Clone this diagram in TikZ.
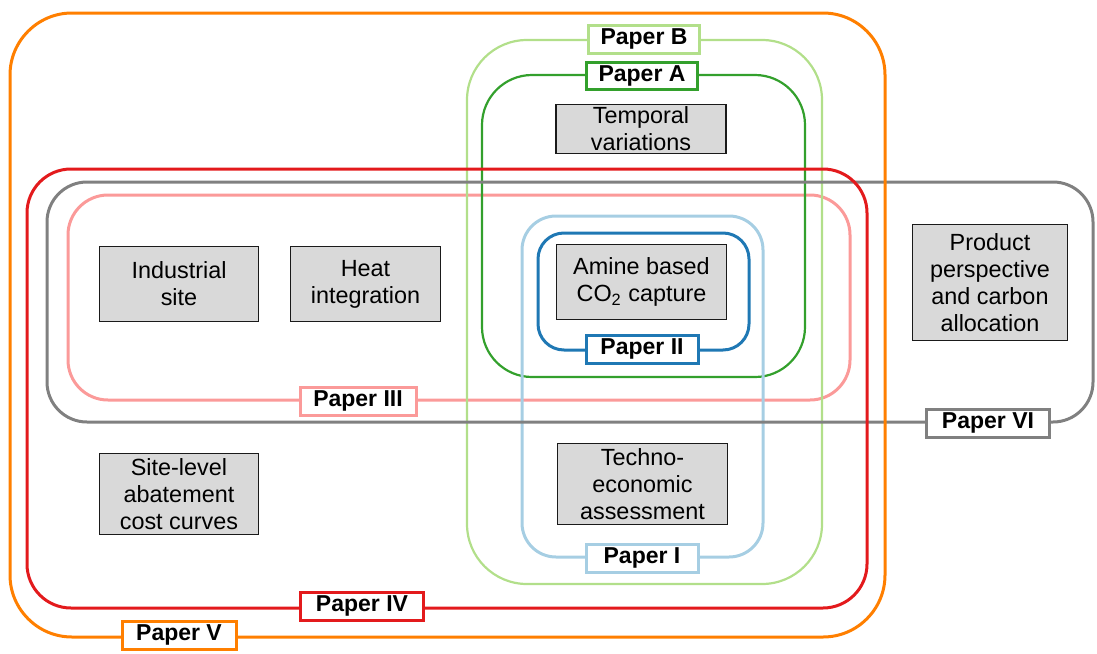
\documentclass[tikz,border=0pt]{standalone}
\usepackage{fontspec}
\setmainfont{Liberation Sans}
\definecolor{cOrange}{HTML}{FF7F00}
\definecolor{cRed}{HTML}{E31A1C}
\definecolor{cGray}{HTML}{808080}
\definecolor{cPink}{HTML}{FB9A99}
\definecolor{cLGreen}{HTML}{B2DF8A}
\definecolor{cGreen}{HTML}{33A02C}
\definecolor{cLBlue}{HTML}{A6CEE3}
\definecolor{cBlue}{HTML}{1F78B4}
\definecolor{boxfill}{HTML}{D9D9D9}
\definecolor{boxline}{HTML}{1A1A1A}
\begin{document}
\begin{tikzpicture}[x=0.5pt,y=-0.5pt,
  frame/.style={line width=1.5pt},
  thinframe/.style={line width=1.1pt},
  topic/.style={draw=boxline, fill=boxfill, line width=0.9pt, inner sep=0pt,
    align=center, font=\fontsize{11.7}{13.5}\selectfont},
  paper/.style={fill=white, line width=1.5pt, inner sep=0pt,
    minimum height=14pt, font=\fontsize{11.5}{13}\selectfont\bfseries}]
\useasboundingbox (0,0) rectangle (1097,653);
% frames
\draw[frame, cPink, rounded corners=20pt] (68,195) rectangle (850,400);
\draw[thinframe, cLGreen, rounded corners=30pt] (467,40) rectangle (822,584);
\draw[thinframe, cGreen, rounded corners=25pt] (482,75) rectangle (805,377);
\draw[frame, cLBlue, rounded corners=17pt] (522,216) rectangle (763,557);
\draw[frame, cGray, rounded corners=20pt] (47,182) rectangle (1093,422);
\draw[frame, cRed, rounded corners=22pt] (27,169) rectangle (867,608);
\draw[frame, cOrange, rounded corners=31pt] (10,13) rectangle (885,637);
\draw[frame, cBlue, rounded corners=13pt] (538,233) rectangle (749,350);
% labels
\node[paper, draw=cLGreen, minimum width=55.5pt] (pB) at (644,39) {Paper B};
\node[paper, draw=cGreen, minimum width=55.5pt, minimum height=13.5pt] (pA) at (642,76) {Paper A};
\node[paper, draw=cBlue, minimum width=56pt] (pII) at (642,349) {Paper II};
\node[paper, draw=cLBlue, minimum width=56pt] (pI) at (642,558) {Paper I};
\node[paper, draw=cPink, minimum width=58pt] (pIII) at (358,401) {Paper III};
\node[paper, draw=cRed, minimum width=61.5pt] (pIV) at (362,606) {Paper IV};
\node[paper, draw=cOrange, minimum width=57pt] (pV) at (179,635) {Paper V};
\node[paper, draw=cGray, minimum width=61.5pt] (pVI) at (988,423) {Paper VI};
% topics
\node[topic, minimum width=85pt, minimum height=24.5pt] (temp) at (641,129) {Temporal\\variations};
\node[topic, minimum width=79.5pt, minimum height=37.5pt] (ind) at (179,284) {Industrial\\site};
\node[topic, minimum width=75pt, minimum height=37.5pt] (heat) at (365.5,284) {Heat\\integration};
\node[topic, minimum width=85pt, minimum height=37.5pt] (amine) at (641.5,282) {Amine based\\CO\textsubscript{2} capture};
\node[topic, minimum width=77.5pt, minimum height=58pt] (prod) at (990,282.5) {Product\\perspective\\and carbon\\allocation};
\node[topic, minimum width=79.5pt, minimum height=40.5pt] (site) at (179,494) {Site-level\\abatement\\cost curves};
\node[topic, minimum width=85pt, minimum height=40.5pt] (tea) at (642.5,484) {Techno-\\economic\\assessment};
\end{tikzpicture}
\end{document}
